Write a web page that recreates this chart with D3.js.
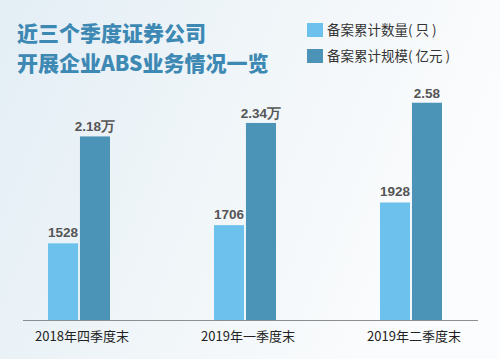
<!DOCTYPE html>
<html><head><meta charset="utf-8">
<script src="https://cdn.jsdelivr.net/npm/d3@7"></script>
<style>html,body{margin:0;padding:0;}svg{display:block;}</style>
</head><body>
<script>
const categories = ["2018年四季度末", "2019年一季度末", "2019年二季度末"];
const countValues = [1528, 1706, 1928];
const scaleValues = [2.18, 2.34, 2.58];
const countLabels = ["1528", "1706", "1928"];
const scaleLabels = ["2.18万", "2.34万", "2.58"];
const seriesNames = ["备案累计数量( 只 )", "备案累计规模( 亿元 )"];
const titleLines = ["近三个季度证券公司", "开展企业ABS业务情况一览"];

const W = 500, H = 359;
const colors = ["#6cc2ec", "#4b94b7"];
const svg = d3.select("body").append("svg").attr("width", W).attr("height", H);

const defs = svg.append("defs");
const g = defs.append("linearGradient").attr("id", "bg").attr("x1", "0").attr("y1", "0").attr("x2", "1").attr("y2", "0.3");
g.append("stop").attr("offset", "0").attr("stop-color", "#e3eef5");
g.append("stop").attr("offset", "0.55").attr("stop-color", "#f1f6f9");
g.append("stop").attr("offset", "1").attr("stop-color", "#fbfcfd");
svg.append("rect").attr("width", W).attr("height", H).attr("fill", "url(#bg)");

const base = 320;
const x = d3.scalePoint().domain(categories).range([79, 411]);
const inner = d3.scaleBand().domain([0, 1]).range([-31, 31]).paddingInner(0.06);
const yCount = d3.scaleLinear().domain([778, 2735]).range([base, 120]);
const yScale = d3.scaleLinear().domain([0, 2.375]).range([base, 120]);

const series = [
  {vals: countValues, labels: countLabels, y: yCount},
  {vals: scaleValues, labels: scaleLabels, y: yScale}
];

series.forEach((s, si) => {
  const grp = svg.append("g");
  grp.selectAll("rect").data(categories).join("rect")
    .attr("x", c => x(c) + inner(si))
    .attr("width", inner.bandwidth())
    .attr("y", (c, i) => s.y(s.vals[i]))
    .attr("height", (c, i) => base - s.y(s.vals[i]))
    .attr("fill", colors[si]);
  grp.selectAll("text").data(categories).join("text")
    .attr("x", c => x(c) + inner(si) + inner.bandwidth() / 2)
    .attr("y", (c, i) => s.y(s.vals[i]) - (si === 0 ? 6 : 5))
    .attr("text-anchor", "middle")
    .attr("font-family", "Liberation Sans, Arial, sans-serif")
    .attr("font-weight", "bold")
    .attr("font-size", "13.5px")
    .attr("fill", "#555")
    .text((c, i) => s.labels[i]);
});

// axis baseline
svg.append("line").attr("x1", 23).attr("x2", 478).attr("y1", base + 0.5).attr("y2", base + 0.5)
  .attr("stroke", "#8a8f94").attr("stroke-width", 1);

// category labels
svg.append("g").selectAll("text").data(categories).join("text")
  .attr("x", c => x(c) + 3)
  .attr("y", 341)
  .attr("text-anchor", "middle")
  .attr("font-family", "Noto Sans CJK SC, sans-serif")
  .attr("font-size", "13px")
  .attr("fill", "#222")
  .text(c => c);

// title
svg.append("g").selectAll("text").data(titleLines).join("text")
  .attr("x", 17)
  .attr("y", (d, i) => 41 + i * 30)
  .attr("font-family", "Noto Sans CJK SC, sans-serif")
  .attr("font-weight", 900)
  .attr("font-size", "21px")
  .attr("fill", "#3d89b4")
  .text(d => d);

// legend
const lg = svg.append("g").selectAll("g").data(seriesNames).join("g")
  .attr("transform", (d, i) => `translate(307, ${23 + i * 26})`);
lg.append("rect").attr("width", 16).attr("height", 14).attr("fill", (d, i) => colors[i]);
lg.append("text").attr("x", 20).attr("y", 12)
  .attr("font-family", "Noto Sans CJK SC, sans-serif")
  .attr("font-size", "13.5px")
  .attr("fill", "#333")
  .text(d => d);
</script>
</body></html>
